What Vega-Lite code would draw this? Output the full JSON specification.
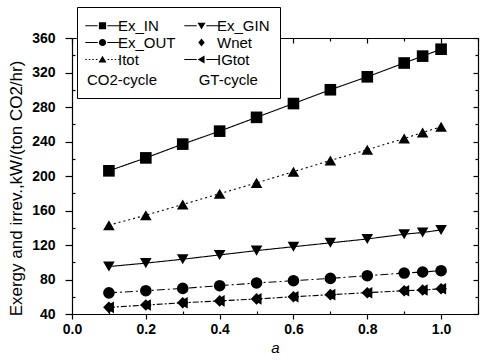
{
  "$schema": "https://vega.github.io/schema/vega-lite/v6.json",
  "width": 406,
  "height": 276,
  "autosize": {"type": "none"},
  "padding": {"left": 72, "top": 38, "right": 3, "bottom": 49},
  "background": "white",
  "config": {
    "view": {"stroke": null},
    "font": "Liberation Sans",
    "axis": {"grid": false, "domainColor": "black", "tickColor": "black", "labelColor": "black", "titleColor": "black", "domainWidth": 1.2, "tickWidth": 1.2}
  },
  "data": {
    "values": [
      {"a": 0.1, "series": "Ex_IN", "v": 206}, {"a": 0.2, "series": "Ex_IN", "v": 221}, {"a": 0.3, "series": "Ex_IN", "v": 237},
      {"a": 0.4, "series": "Ex_IN", "v": 252}, {"a": 0.5, "series": "Ex_IN", "v": 268}, {"a": 0.6, "series": "Ex_IN", "v": 284},
      {"a": 0.7, "series": "Ex_IN", "v": 300}, {"a": 0.8, "series": "Ex_IN", "v": 315}, {"a": 0.9, "series": "Ex_IN", "v": 331},
      {"a": 0.95, "series": "Ex_IN", "v": 339}, {"a": 1.0, "series": "Ex_IN", "v": 347},
      {"a": 0.1, "series": "Itot", "v": 143}, {"a": 0.2, "series": "Itot", "v": 154.5}, {"a": 0.3, "series": "Itot", "v": 167},
      {"a": 0.4, "series": "Itot", "v": 179.5}, {"a": 0.5, "series": "Itot", "v": 192}, {"a": 0.6, "series": "Itot", "v": 205},
      {"a": 0.7, "series": "Itot", "v": 218}, {"a": 0.8, "series": "Itot", "v": 230.5}, {"a": 0.9, "series": "Itot", "v": 243.5},
      {"a": 0.95, "series": "Itot", "v": 250.5}, {"a": 1.0, "series": "Itot", "v": 257},
      {"a": 0.1, "series": "Ex_GIN", "v": 95}, {"a": 0.2, "series": "Ex_GIN", "v": 99}, {"a": 0.3, "series": "Ex_GIN", "v": 103.5},
      {"a": 0.4, "series": "Ex_GIN", "v": 108.5}, {"a": 0.5, "series": "Ex_GIN", "v": 113.5}, {"a": 0.6, "series": "Ex_GIN", "v": 118},
      {"a": 0.7, "series": "Ex_GIN", "v": 122.5}, {"a": 0.8, "series": "Ex_GIN", "v": 127}, {"a": 0.9, "series": "Ex_GIN", "v": 132.5},
      {"a": 0.95, "series": "Ex_GIN", "v": 134.5}, {"a": 1.0, "series": "Ex_GIN", "v": 137.5},
      {"a": 0.1, "series": "Ex_OUT", "v": 64.5}, {"a": 0.2, "series": "Ex_OUT", "v": 67}, {"a": 0.3, "series": "Ex_OUT", "v": 69.7},
      {"a": 0.4, "series": "Ex_OUT", "v": 72.8}, {"a": 0.5, "series": "Ex_OUT", "v": 76}, {"a": 0.6, "series": "Ex_OUT", "v": 78.6},
      {"a": 0.7, "series": "Ex_OUT", "v": 81.3}, {"a": 0.8, "series": "Ex_OUT", "v": 84.4}, {"a": 0.9, "series": "Ex_OUT", "v": 87.5},
      {"a": 0.95, "series": "Ex_OUT", "v": 88.7}, {"a": 1.0, "series": "Ex_OUT", "v": 90.2},
      {"a": 0.1, "series": "IGtot", "v": 47.7}, {"a": 0.2, "series": "IGtot", "v": 50.4}, {"a": 0.3, "series": "IGtot", "v": 53},
      {"a": 0.4, "series": "IGtot", "v": 55.2}, {"a": 0.5, "series": "IGtot", "v": 57.5}, {"a": 0.6, "series": "IGtot", "v": 60},
      {"a": 0.7, "series": "IGtot", "v": 62.4}, {"a": 0.8, "series": "IGtot", "v": 64.7}, {"a": 0.9, "series": "IGtot", "v": 67},
      {"a": 0.95, "series": "IGtot", "v": 67.8}, {"a": 1.0, "series": "IGtot", "v": 69.3},
      {"a": 0.1, "series": "Wnet", "v": 47.7}, {"a": 0.2, "series": "Wnet", "v": 50.4}, {"a": 0.3, "series": "Wnet", "v": 53},
      {"a": 0.4, "series": "Wnet", "v": 55.2}, {"a": 0.5, "series": "Wnet", "v": 57.5}, {"a": 0.6, "series": "Wnet", "v": 60},
      {"a": 0.7, "series": "Wnet", "v": 62.4}, {"a": 0.8, "series": "Wnet", "v": 64.7}, {"a": 0.9, "series": "Wnet", "v": 67},
      {"a": 0.95, "series": "Wnet", "v": 67.8}, {"a": 1.0, "series": "Wnet", "v": 69.3}
    ]
  },
  "resolve": {
    "axis": {"x": "independent", "y": "independent"},
    "scale": {"shape": "independent", "strokeDash": "independent"}
  },
  "layer": [
    {
      "transform": [{"filter": "datum.series !== 'Wnet'"}],
      "mark": {"type": "line", "color": "black", "strokeWidth": 1.1},
      "encoding": {
        "x": {
          "field": "a", "type": "quantitative",
          "scale": {"domain": [0, 1.1], "nice": false, "zero": false},
          "axis": {
            "orient": "bottom",
            "values": [0, 0.1, 0.2, 0.3, 0.4, 0.5, 0.6, 0.7, 0.8, 0.9, 1.0, 1.1],
            "labelExpr": "round(datum.value*10)%2==0 && datum.value<1.05 ? format(datum.value,'.1f') : ''",
            "tickSize": {"condition": {"test": "round(datum.value*10)%2==0", "value": 5}, "value": -3},
            "labelFontSize": 14, "labelFontWeight": "bold", "labelPadding": 3,
            "labelOverlap": false, "labelFlush": false, "labelBound": false,
            "title": "a", "titleFontStyle": "italic", "titleFontWeight": "normal", "titleFontSize": 15, "titlePadding": 4
          }
        },
        "y": {
          "field": "v", "type": "quantitative",
          "scale": {"domain": [40, 360], "nice": false, "zero": false},
          "axis": {
            "orient": "left",
            "values": [40, 60, 80, 100, 120, 140, 160, 180, 200, 220, 240, 260, 280, 300, 320, 340, 360],
            "labelExpr": "datum.value%40==0 ? datum.label : ''",
            "tickSize": {"condition": {"test": "datum.value%40==0", "value": 7}, "value": -3},
            "labelFontSize": 14, "labelFontWeight": "bold", "labelPadding": 10,
            "labelOverlap": false, "labelFlush": false, "labelBound": false,
            "title": "Exergy and irrev.,kW/(ton CO2/hr)", "titleFontWeight": "normal", "titleFontSize": 17, "titlePadding": 6, "titleY": 150
          }
        },
        "detail": {"field": "series"},
        "strokeDash": {
          "field": "series",
          "scale": {
            "domain": ["Ex_IN", "Ex_GIN", "Ex_OUT", "Itot", "IGtot"],
            "range": [[1, 0], [1, 0], [8, 3, 2, 3], [2, 3], [6, 2, 2, 2]]
          },
          "legend": null
        }
      }
    },
    {
      "mark": {"type": "point", "filled": true, "color": "black", "opacity": 1, "size": 135},
      "encoding": {
        "x": {
          "field": "a", "type": "quantitative",
          "scale": {"domain": [0, 1.1], "nice": false, "zero": false},
          "axis": {
            "orient": "top", "labels": false, "title": null,
            "values": [0, 0.1, 0.2, 0.3, 0.4, 0.5, 0.6, 0.7, 0.8, 0.9, 1.0, 1.1],
            "tickSize": {"condition": {"test": "round(datum.value*10)%2==0", "value": -5}, "value": -3}
          }
        },
        "y": {
          "field": "v", "type": "quantitative",
          "scale": {"domain": [40, 360], "nice": false, "zero": false},
          "axis": {
            "orient": "right", "labels": false, "title": null,
            "values": [40, 60, 80, 100, 120, 140, 160, 180, 200, 220, 240, 260, 280, 300, 320, 340, 360],
            "tickSize": {"condition": {"test": "datum.value%40==0", "value": -5}, "value": -3}
          }
        },
        "shape": {
          "field": "series",
          "scale": {
            "domain": ["Ex_IN", "Ex_GIN", "Ex_OUT", "Wnet", "Itot", "IGtot"],
            "range": ["square", "triangle-down", "circle", "diamond", "triangle-up", "triangle-left"]
          },
          "legend": null
        }
      }
    },
    {
      "description": "Legend carrier: invisible points whose shape scale holds the line-and-marker key symbols.",
      "mark": {"type": "point", "filled": true, "fill": "black", "stroke": "black", "strokeWidth": 1, "opacity": 0, "size": 10},
      "encoding": {
        "x": {"field": "a", "type": "quantitative", "axis": null},
        "y": {"field": "v", "type": "quantitative", "axis": null},
        "shape": {
          "field": "series",
          "scale": {
            "domain": ["Ex_IN", "Ex_OUT", "Itot", "Ex_GIN", "Wnet", "IGtot"],
            "range": [
              "M-2.15,-0.07H-0.6V0.07H-2.15ZM0.6,-0.07H2.15V0.07H0.6ZM-0.45,-0.45H0.45V0.45H-0.45Z",
              "M-2.15,-0.07H-0.6V0.07H-2.15ZM0.6,-0.07H2.15V0.07H0.6ZM0.45,0A0.45,0.45,0,1,1,-0.45,0A0.45,0.45,0,1,1,0.45,0Z",
              "M-2.15,-0.07H-1.96V0.07H-2.15ZM-1.71,-0.07H-1.52V0.07H-1.71ZM-1.27,-0.07H-1.08V0.07H-1.27ZM-0.83,-0.07H-0.64V0.07H-0.83ZM0.64,-0.07H0.83V0.07H0.64ZM1.08,-0.07H1.27V0.07H1.08ZM1.52,-0.07H1.71V0.07H1.52ZM1.96,-0.07H2.15V0.07H1.96ZM0,-0.48L0.5,0.38H-0.5Z",
              "M-2.15,-0.07H-0.6V0.07H-2.15ZM0.6,-0.07H2.15V0.07H0.6ZM-0.5,-0.38H0.5L0,0.48Z",
              "M0,-0.5L0.4,0L0,0.5L-0.4,0Z",
              "M-2.15,-0.07H-0.6V0.07H-2.15ZM0.6,-0.07H2.15V0.07H0.6ZM-0.48,0L0.38,-0.5V0.5Z"
            ]
          },
          "legend": {
            "orient": "none", "legendX": 5, "legendY": -31,
            "direction": "vertical", "columns": 2,
            "title": "CO2-cycle\u00a0\u00a0\u00a0\u00a0\u00a0\u00a0\u00a0\u00a0\u00a0\u00a0GT-cycle\u00a0\u00a0\u00a0\u00a0\u00a0\u00a0\u00a0\u00a0\u00a0",
            "titleOrient": "bottom", "titleAnchor": "start", "titleFontSize": 15, "titleFontWeight": "normal", "titleColor": "black", "titlePadding": 5, "titleLimit": 500,
            "labelFontSize": 15, "labelColor": "black", "labelOffset": 7, "labelLimit": 200,
            "symbolSize": 256, "symbolOffset": 7, "symbolOpacity": 1, "symbolStrokeWidth": 1,
            "symbolFillColor": "black", "symbolStrokeColor": "black",
            "columnPadding": 6, "rowPadding": -2.5, "padding": 10,
            "strokeColor": "black", "fillColor": "white", "cornerRadius": 0,
            "encode": {
              "symbols": {
                "stroke": {"value": "black"},
                "strokeWidth": {"value": 1}
              }
            }
          }
        }
      }
    }
  ]
}
